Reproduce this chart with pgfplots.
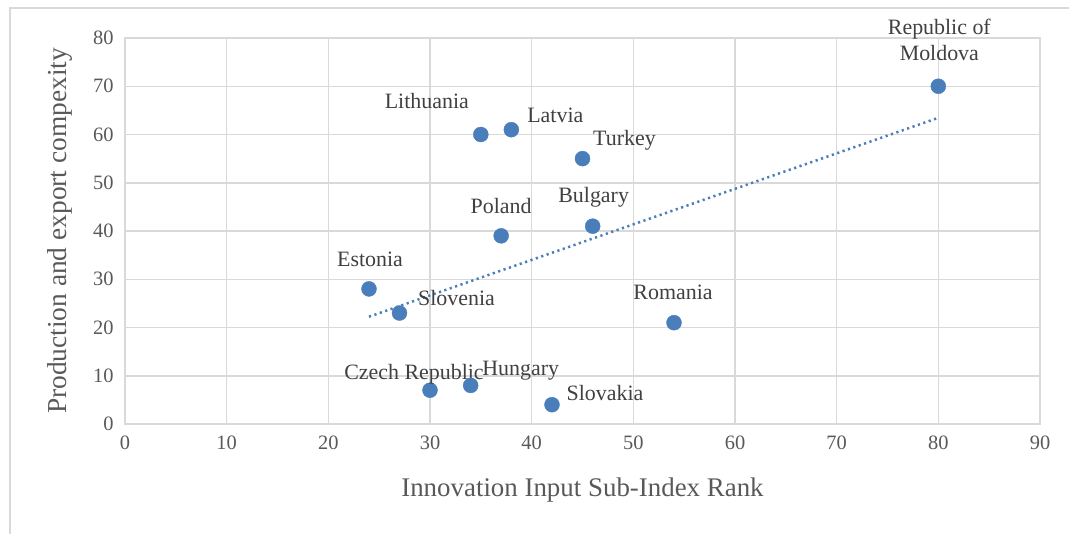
\documentclass[border=0pt]{standalone}
\usepackage{fontspec}
\setmainfont{Liberation Serif}
\usepackage{pgfplots}
\usepackage{pgfplotstable}
\pgfplotsset{compat=1.18}
\definecolor{pt}{HTML}{4A7EBB}
\definecolor{gridc}{HTML}{D9D9D9}
\definecolor{tickc}{HTML}{595959}
\definecolor{labc}{HTML}{404040}

\pgfplotstableread[col sep=comma]{
x,y,dx,dy,label
24,28,1,30,Estonia
27,23,57,15,Slovenia
30,7,-16,16,Czech Republic
34,8,50,15,Hungary
35,60,-54,33,Lithuania
37,39,0,30,Poland
38,61,44,14,Latvia
42,4,53,12,Slovakia
45,55,42,18,Turkey
46,41,1,29,Bulgary
54,21,-1,30,Romania
80,70,1,46,{Republic of\\Moldova}
}\data

\begin{document}
\begin{tikzpicture}
\path[use as bounding box] (0,0) rectangle (1069bp,534bp);
\draw[gridc, line width=1.5bp] (10bp,-5bp) -- (10bp,526bp) -- (1080bp,526bp);
\begin{axis}[
  at={(125bp,110bp)}, anchor=south west,
  scale only axis, width=915bp, height=386bp,
  xmin=0, xmax=90, ymin=0, ymax=80,
  xtick distance=10, ytick distance=10,
  grid=major, grid style={gridc, line width=1.5bp},
  axis line style={draw=gridc, line width=1.5bp},
  major tick length=0pt,
  /pgf/number format/assume math mode=true,
  tick label style={font=\fontsize{20.5}{24}\selectfont, text=tickc},
  xticklabel style={yshift=-8bp},
  yticklabel style={xshift=-8bp},
  xlabel={Innovation Input Sub-Index Rank},
  ylabel={Production and export compexity},
  every axis x label/.style={at={(axis description cs:0.5,-0.171)}, anchor=center,
    font=\fontsize{27}{31}\selectfont, text=tickc},
  every axis y label/.style={at={(axis description cs:-0.071,0.5)}, rotate=90, anchor=center,
    font=\fontsize{27.5}{31}\selectfont, text=tickc},
  clip=false,
]
\addplot[pt, line width=2.5bp, dash pattern=on 2.2bp off 3.5bp]
  table[x=x, y={create col/linear regression={y=y}}] {\data};
\addplot[only marks, mark=*, mark size=7.5bp, mark options={fill=pt, draw=pt},
  point meta=explicit symbolic,
  visualization depends on={\thisrow{dx} \as \dx},
  visualization depends on={\thisrow{dy} \as \dy},
  nodes near coords,
  every node near coord/.style={anchor=center, xshift=\dx bp, yshift=\dy bp,
    font=\fontsize{22}{26}\selectfont, text=labc, align=center, inner sep=0pt},
] table[x=x, y=y, meta=label] {\data};
\end{axis}
\end{tikzpicture}
\end{document}
